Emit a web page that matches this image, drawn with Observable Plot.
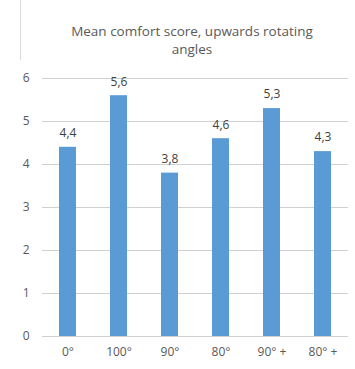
<!DOCTYPE html>
<html>
<head>
<meta charset="utf-8">
<script src="https://cdn.jsdelivr.net/npm/d3@7"></script>
<script src="https://cdn.jsdelivr.net/npm/@observablehq/plot@0.6"></script>
<style>
  html, body { margin: 0; padding: 0; background: #fff; }
  #chart { position: relative; width: 355px; height: 369px; overflow: hidden; font-family: "Open Sans", sans-serif; }
  #frame { position: absolute; left: 20px; top: 0; width: 0; height: 369px; border-left: 1px solid #d9d9d9; }
  #title { position: absolute; left: 0; top: 22px; width: 384px; text-align: center; font-size: 13.5px; line-height: 18px; color: #595959; }
  #plot { position: absolute; left: 0; top: 60px; }
</style>
</head>
<body>
<div id="chart">
  <div id="frame"></div>
  <div id="title">Mean comfort score, upwards rotating<br>angles</div>
  <div id="plot"></div>
</div>
<script>
const categories = ["0°", "100°", "90°", "80°", "90° +", "80° +"];
const scores = [4.4, 5.6, 3.8, 4.6, 5.3, 4.3];
const yTicks = [0, 1, 2, 3, 4, 5, 6];

const rows = categories.map((c, i) => ({angle: c, score: scores[i]}));
const comma = v => v.toFixed(1).replace(".", ",");

const chart = Plot.plot({
  width: 355,
  height: 309,
  marginTop: 18,
  marginBottom: 33,
  marginLeft: 42,
  marginRight: 7,
  style: {fontFamily: "Open Sans, sans-serif", fontSize: "12px", color: "#595959", background: "#fff"},
  x: {domain: categories, paddingInner: 0.67, paddingOuter: 0.335, label: null, tickSize: 0, tickPadding: 11},
  y: {domain: [0, 6], ticks: yTicks, tickFormat: d => String(d), label: null, tickSize: 0, tickPadding: 13},
  marks: [
    Plot.ruleY(yTicks, {y: d => d, stroke: "#d0d0d0", strokeOpacity: 1, strokeWidth: 1}),
    Plot.barY(rows, {x: "angle", y: "score", fill: "#5b9bd5"}),
    Plot.text(rows, {x: "angle", y: "score", text: d => comma(d.score), dy: -14, fill: "#404040", fontSize: 12})
  ]
});
document.getElementById("plot").appendChild(chart);
</script>
</body>
</html>
